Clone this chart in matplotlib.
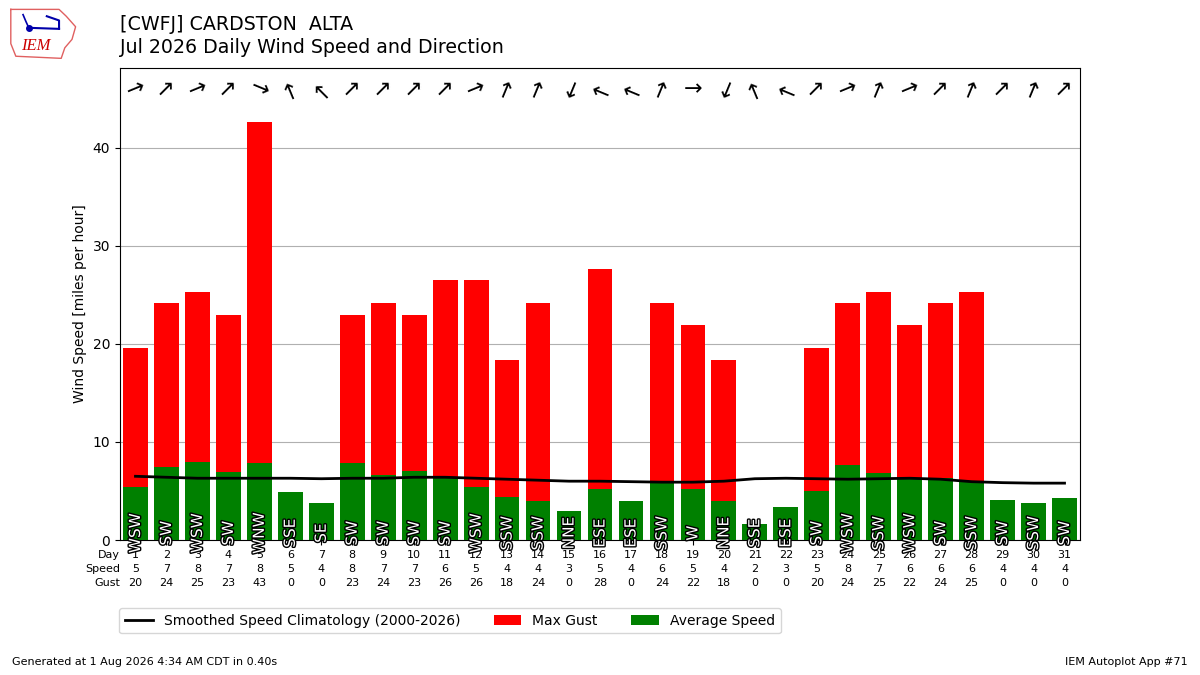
import numpy as np
import matplotlib.pyplot as plt
import matplotlib.patheffects as PathEffects

# daily values
days = list(range(1, 32))
avg_speed = [5.4, 7.4, 8.0, 6.9, 7.9, 4.9, 3.8, 7.9, 6.6, 7.0, 6.3, 5.4, 4.4, 4.0, 3.0, 5.2,
             4.0, 5.8, 5.2, 4.0, 1.6, 3.4, 5.0, 7.6, 6.8, 6.3, 6.3, 5.9, 4.1, 3.8, 4.3]
max_gust = [19.6, 24.2, 25.3, 23.0, 42.6, 0, 0, 23.0, 24.2, 23.0, 26.5, 26.5, 18.4, 24.2, 0, 27.6,
            0, 24.2, 21.9, 18.4, 0, 0, 19.6, 24.2, 25.3, 21.9, 24.2, 25.3, 0, 0, 0]
speed_lbl = [5, 7, 8, 7, 8, 5, 4, 8, 7, 7, 6, 5, 4, 4, 3, 5, 4, 6, 5, 4, 2, 3, 5, 8, 7, 6, 6, 6, 4, 4, 4]
gust_lbl = [20, 24, 25, 23, 43, 0, 0, 23, 24, 23, 26, 26, 18, 24, 0, 28, 0, 24, 22, 18, 0, 0,
            20, 24, 25, 22, 24, 25, 0, 0, 0]
drct_txt = ['WSW', 'SW', 'WSW', 'SW', 'WNW', 'SSE', 'SE', 'SW', 'SW', 'SW', 'SW', 'WSW', 'SSW', 'SSW',
            'NNE', 'ESE', 'ESE', 'SSW', 'W', 'NNE', 'SSE', 'ESE', 'SW', 'WSW', 'SSW', 'WSW', 'SW',
            'SSW', 'SW', 'SSW', 'SW']
climo = [6.5, 6.4, 6.3, 6.3, 6.3, 6.3, 6.25, 6.3, 6.3, 6.4, 6.4, 6.3, 6.2, 6.1, 6.0, 6.0,
         5.95, 5.9, 5.9, 6.0, 6.25, 6.3, 6.25, 6.2, 6.25, 6.3, 6.2, 5.95, 5.85, 5.8, 5.8]

compass = {'N': 0, 'NNE': 22.5, 'NE': 45, 'ENE': 67.5, 'E': 90, 'ESE': 112.5, 'SE': 135,
           'SSE': 157.5, 'S': 180, 'SSW': 202.5, 'SW': 225, 'WSW': 247.5, 'W': 270,
           'WNW': 292.5, 'NW': 315, 'NNW': 337.5}

fig = plt.figure(figsize=(12, 6.75), dpi=100)
ax = fig.add_axes([0.1, 0.2, 0.8, 0.7])

ax.bar(days, max_gust, width=0.8, color='r', label='Max Gust', zorder=2)
ax.bar(days, avg_speed, width=0.8, color='g', label='Average Speed', zorder=3)
ax.plot(days, climo, color='k', lw=2, label='Smoothed Speed Climatology (2000-2026)', zorder=4)

for d, txt in zip(days, drct_txt):
    t = ax.text(d, 0.7, txt, rotation=90, ha='center', va='center', color='white',
                fontsize=11, zorder=5)
    t.set_path_effects([PathEffects.withStroke(linewidth=2, foreground='k')])
    # arrow points where the wind blows to
    ang = 90 - (compass[txt] + 180)
    ax.text(d, 46.0, '\u2192', rotation=ang % 360, ha='center', va='center',
            fontsize=16, zorder=5)

ax.set_xlim(0.5, 31.5)
ax.set_ylim(0, 48.2)
ax.set_xticks(days)
ax.set_xticklabels([f'{d}\n{s}\n{g}' for d, s, g in zip(days, speed_lbl, gust_lbl)],
                   fontsize=8, linespacing=1.5)
ax.annotate('Day\nSpeed\nGust', xy=(0, 0), xycoords='axes fraction', xytext=(0, -7),
            textcoords='offset points', fontsize=8, ha='right', va='top',
            multialignment='right', linespacing=1.5)
ax.set_yticks([0, 10, 20, 30, 40])
ax.tick_params(axis='y', labelsize=10)
ax.yaxis.grid(True, color='#b0b0b0', zorder=0)
ax.set_axisbelow(True)
ax.set_ylabel('Wind Speed [miles per hour]')

ax.legend(loc='upper left', bbox_to_anchor=(-0.008, -0.13), ncol=3, fontsize=10,
          columnspacing=2.4)

fig.text(0.1, 0.963, '[CWFJ] CARDSTON  ALTA', fontsize=13.7, va='center')
fig.text(0.1, 0.929, 'Jul 2026 Daily Wind Speed and Direction', fontsize=13.7, va='center')
fig.text(0.01, 0.015, 'Generated at 1 Aug 2026 4:34 AM CDT in 0.40s', fontsize=8)
fig.text(0.99, 0.015, 'IEM Autoplot App #71', fontsize=8, ha='right')

# rough stand-in for the IEM logo
lax = fig.add_axes([0.006, 0.912, 0.06, 0.078])
lax.plot([0.05, 0.72, 0.82, 0.95, 0.9, 0.8, 0.75, 0.12, 0.05, 0.05],
         [0.95, 0.95, 0.82, 0.62, 0.38, 0.22, 0.02, 0.06, 0.3, 0.95], color='#e06060', lw=1)
lax.text(0.4, 0.25, 'IEM', color='#cc0000', fontsize=12, fontstyle='italic',
         family='Liberation Serif', ha='center', va='center')
lax.plot([0.3, 0.72], [0.6, 0.58], color='#0000aa', lw=1.5)
lax.plot([0.3], [0.6], 'o', color='#0000aa', ms=4)
lax.plot([0.22, 0.26, 0.3], [0.85, 0.72, 0.6], color='#0000aa', lw=1.2)
lax.plot([0.55, 0.72, 0.72], [0.82, 0.74, 0.58], color='#0000aa', lw=1.5)
lax.set_xlim(0, 1)
lax.set_ylim(0, 1)
lax.axis('off')

fig.savefig('out.png')
